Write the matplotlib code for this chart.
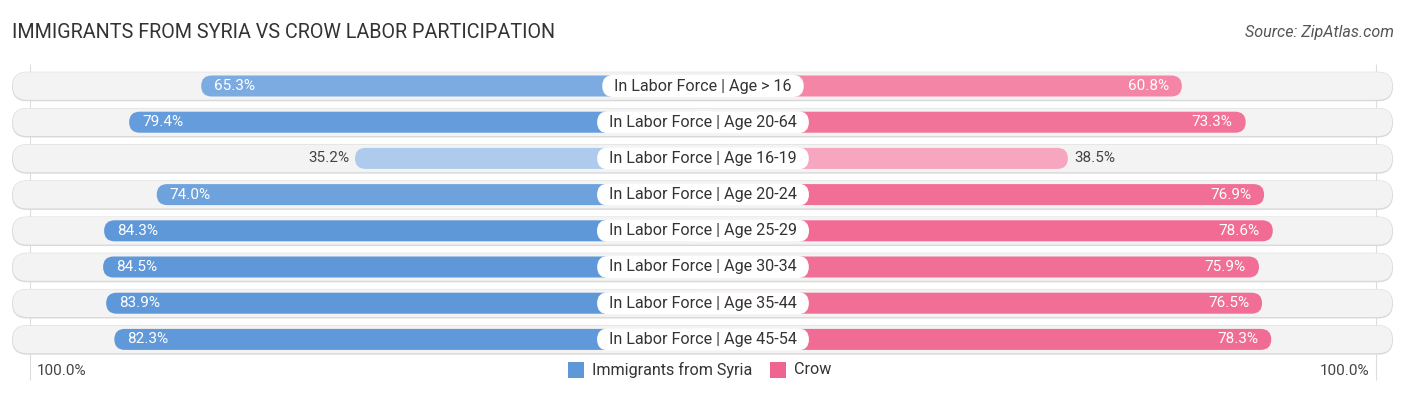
import numpy as np
import matplotlib.pyplot as plt
from matplotlib.patches import FancyBboxPatch, Rectangle
from matplotlib.colors import to_rgb

plt.rcParams['font.family'] = ['Roboto', 'DejaVu Sans']

# data
categories = ["In Labor Force | Age > 16", "In Labor Force | Age 20-64",
              "In Labor Force | Age 16-19", "In Labor Force | Age 20-24",
              "In Labor Force | Age 25-29", "In Labor Force | Age 30-34",
              "In Labor Force | Age 35-44", "In Labor Force | Age 45-54"]
syria = [65.3, 79.4, 35.2, 74.0, 84.3, 84.5, 83.9, 82.3]
crow = [60.8, 73.3, 38.5, 76.9, 78.6, 75.9, 76.5, 78.3]
series_names = ["Immigrants from Syria", "Crow"]

# layout (pixel units, axes fills the figure)
W, H = 1406, 395
CX = 703          # centre line
OFFSET = 32.9     # bars start hidden behind the label
SCALE = 5.11      # px per percent
ROW0, ROW_STEP = 86, 36.2
GRID_HALF = 673

blue_light, blue_dark = "#aecbee", "#5f98d9"
pink_light, pink_dark = "#f8abc3", "#f0658f"


def mix(c1, c2, t):
    a, b = np.array(to_rgb(c1)), np.array(to_rgb(c2))
    return tuple(a + (b - a) * t)


def shade(v, light, dark):
    t = np.clip((v - 35) / 48, 0, 1)
    return mix(light, dark, t)


def pill(x0, x1, yc, h, **kw):
    p = FancyBboxPatch((x0, yc - h / 2), x1 - x0, h,
                       boxstyle="round,pad=0,rounding_size=%f" % (h / 2), **kw)
    ax.add_patch(p)
    return p


fig = plt.figure(figsize=(W / 100, H / 100), dpi=100)
ax = fig.add_axes([0, 0, 1, 1])
ax.set_xlim(0, W)
ax.set_ylim(H, 0)
ax.axis('off')

# grid lines at 100%
ax.vlines([CX - GRID_HALF, CX + GRID_HALF], 64, 380, color="#dddddd", lw=0.8, zorder=0)

renderer = fig.canvas.get_renderer()

for i, (cat, s, c) in enumerate(zip(categories, syria, crow)):
    y = ROW0 + i * ROW_STEP
    # track with soft shadow
    pill(12, 1393, y + 0.5, 29.5, facecolor="#d9d9d9", edgecolor="none", zorder=1)
    pill(12.8, 1392.2, y, 27.6, facecolor="#f3f3f3", edgecolor="none", zorder=1)

    xl = CX - SCALE * (OFFSET + s)
    xr = CX + SCALE * (OFFSET + c)
    pill(xl, CX, y, 21, facecolor=shade(s, blue_light, blue_dark), edgecolor="none", zorder=2)
    pill(CX, xr, y, 21, facecolor=shade(c, pink_light, pink_dark), edgecolor="none", zorder=2)

    # value labels
    if s >= 50:
        ax.text(xl + 13, y, "%.1f%%" % s, ha="left", va="center", fontsize=11,
                color="white", zorder=5)
    else:
        ax.text(xl - 6, y, "%.1f%%" % s, ha="right", va="center", fontsize=11,
                color="#444444", zorder=5)
    if c >= 50:
        ax.text(xr - 13, y, "%.1f%%" % c, ha="right", va="center", fontsize=11,
                color="white", zorder=5)
    else:
        ax.text(xr + 6, y, "%.1f%%" % c, ha="left", va="center", fontsize=11,
                color="#444444", zorder=5)

    # category label in white pill
    t = ax.text(CX, y, cat, ha="center", va="center", fontsize=11.6,
                color="#333333", zorder=6)
    bb = t.get_window_extent(renderer)
    half = bb.width / 2 + 12
    pill(CX - half, CX + half, y, 22, facecolor="white", edgecolor="none", zorder=4)

# title and source
ax.text(12, 33, "IMMIGRANTS FROM SYRIA VS CROW LABOR PARTICIPATION", ha="left",
        va="center", fontsize=14.2, color="#333333")
ax.text(1394, 33, "Source: ZipAtlas.com", ha="right", va="center", fontsize=11.6,
        color="#555555", style="italic")

# axis end labels
ax.text(37, 371, "100.0%", ha="left", va="center", fontsize=11, color="#444444")
ax.text(1369, 371, "100.0%", ha="right", va="center", fontsize=11, color="#444444")

# legend
for x0, col, name in [(568, blue_dark, series_names[0]), (770, pink_dark, series_names[1])]:
    ax.add_patch(Rectangle((x0, 362), 16, 16, facecolor=col, edgecolor="none"))
    ax.text(x0 + 24, 370, name, ha="left", va="center", fontsize=11.6, color="#333333")

fig.savefig("out.png", dpi=100)
